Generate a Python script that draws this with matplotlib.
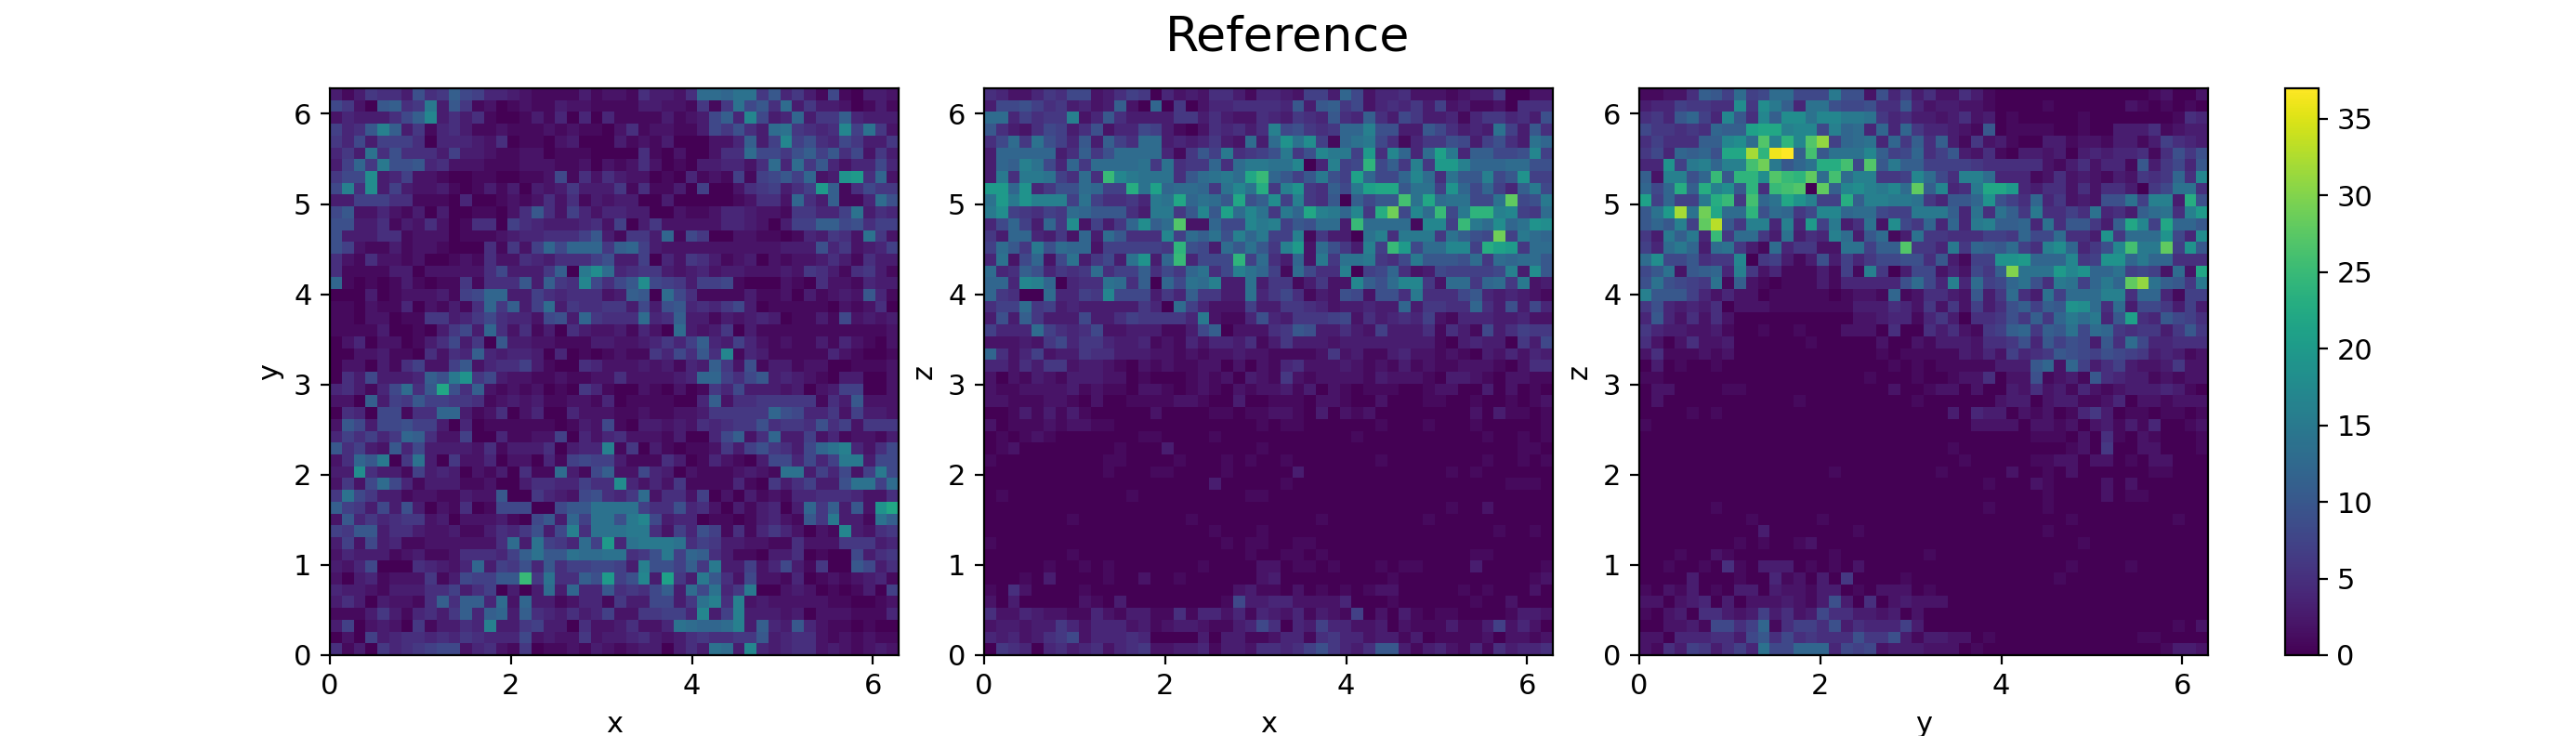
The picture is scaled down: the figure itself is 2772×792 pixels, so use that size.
import numpy as np
import matplotlib
matplotlib.use('Agg')  # Non-interactive backend
import matplotlib.pyplot as plt

# cell values, top row first, one character per cell
# 0-9 then a=10 ... z=35, A=36, B=37
DIGITS = '0123456789abcdefghijklmnopqrstuvwxyzAB'

rows_xy = [
    "31365539 56b87443 21111312 2153325d dcee6a46 31810332",
    "8620ab56 f3a61201 21132211 11332216 16e8a5d3 63320131",
    "2433358b h3535100 13140404 11113123 8b4h834c 366b4333",
    "745agb36 14531121 11212110 25122113 86953de6 545h7e62",
    "64837775 04443250 11023000 31213000 224b37h7 95486336",
    "463e5955 53733211 22011100 00510200 255d8869 b7a58263",
    "37c6f99a 45222111 22211202 12520103 34425d4d 6a424484",
    "688i3472 21001100 11281525 32201041 217178a7 c23jk5c2",
    "8g5i3732 23101313 03236333 61511307 00256735 7kb15866",
    "33777551 11040012 12525132 33003000 0012552c 53b114d9",
    "8a224213 03001102 5a527424 43300211 24432216 6447e354",
    "99335132 52015507 54333452 70362222 24432037 7bb89577",
    "93335512 22011123 445557a3 1663c186 00221101 43652e62",
    "97211312 21000516 27c8ccc6 bc732222 22222233 39462347",
    "52152212 00121522 54355579 33704265 31230212 23531533",
    "51111330 22222583 336b0fid 45663234 23322232 65315631",
    "c1010131 01161555 a3b65h85 8ai87637 78100021 05221433",
    "00030122 23178cc3 37545552 3ba0d851 11131120 31232a41",
    "11021140 21315c6b 37d36556 63839a45 46830111 11021250",
    "11022011 66346854 42893c65 55d45b33 13234301 13182323",
    "11113001 03683c52 51305322 31420d32 36031111 11111112",
    "02402201 358360a3 32211133 2234647b 43742121 13142102",
    "00223110 5254b434 43040101 2116485a 5h143111 11421001",
    "02203157 227a2455 73100542 22323143 b6291331 22001112",
    "05383334 b9fj6832 21121122 5222234c c758a343 21033002",
    "453148d5 am95b212 12010641 00210201 64833323 02377002",
    "220b376a 77665123 23112214 01111004 b2556666 6153a222",
    "05408815 5cc31250 24004222 11211223 66666c98 44627332",
    "2a838897 73040111 11101328 10332325 45669566 59572666",
    "475746cb 52270041 12270424 52221300 48b25c33 72412213",
    "a5732a48 33332513 3350344g 16031011 26379653 8ceg4258",
    "25caf06e 30622402 20417877 31115301 42103884 847ff388",
    "33i53317 34302130 511d318b 22843021 112321ee 374827f8",
    "2628d841 33311200 35544755 i4242611 11410635 7339ee7d",
    "6e863312 211322a0 06432895 46d25527 02031214 45554225",
    "b7638393 02150188 8008aaee ee755945 20313403 c6b3a2jm",
    "2a464566 23022231 08a3c7ee 9fh83440 11013421 a6f331eb",
    "76aa3553 22311354 6938g5ee eff52749 71514642 021h3256",
    "37283411 2222225d 3e764d7k 4efffe57 63322115 22266634",
    "24333123 11255547 beaaedde e569f7cb 53110335 01008356",
    "32480005 4324c376 94a57788 73g997b6 f3372483 1600a835",
    "20341222 613877aa p6e55b9k 79h3l63f a5282214 01212341",
    "43321333 55735703 03d3c44a 5658b3d8 e46f0023 20101307",
    "35303221 5b5bb4d2 c3312441 6338836e g5g23222 22110012",
    "11136314 536b4bc3 b5435347 2266774h 37g33323 02221114",
    "37023206 13354g33 67330522 35224edc cdg3b43a 42110100",
    "02073455 45465444 82322623 34532356 5566a345 52121211",
    "51306456 78824521 60112132 12330353 ed3h4345 52321232",
]

rows_xz = [
    "54224658 82357604 23255314 432773c8 24452221 23360022",
    "38897563 423b20c0 60244555 54a3ab68 24546372 31120555",
    "dd47566g 24a53333 66353225 43654a54 b5386334 14664539",
    "a5325873 59244873 10254535 g89656cc g9933a85 343e73a5",
    "58d6e974 a3b75dd3 434632d3 djei71ce f8514669 837953ec",
    "3ccccc35 b69dddd4 16a7f567 9f69hff7 k5hc4dlf 4bb889h7",
    "3cbge84c 6dddde6e 566c5dff eeh04g78 o8b6g6kk gcccdd99",
    "3f5ffe75 d5phfeee 5adefdmp ca7af97l c88chd5e aag8aj77",
    "kkcj4699 dc77nelc ddc6ehen 6gj65b8f lmmaee7j c8c74bf8",
    "ekfjggg7 e75564fe mcedam9b i7g65a0b 8aaqemde e88es89f",
    "fi76576d caaa53ff 6ahaldhe 6fcmgfch 6nt8hdp8 foogh76d",
    "48c73c6i 2736cibd r22c88hf g7a9dd3p dddd1hh7 pfdiceji",
    "63cc4362 c3da555h 7dbe9gcf 77g16330 eg5fff6e b98t7fdc",
    "7da6f9dc c2777776 o983daea 6gk2d963 g7pk8ddh h7nlk6dd",
    "4e28c28e 3683ej3c p4888o7d 53c2f6ee f658faaa 9d6dcdda",
    "d45b9465 6d577b58 6ce58gec 71d855g0 78c52387 7778g3ia",
    "cc4hgc04 55ed5b0c 8edg33e3 6613622h b9dhh62d d6cd6f23",
    "c6500d44 76h88836 4b6633e4 68513298 2995f555 8a434321",
    "577d6734 33333640 d7422273 36654233 433c3665 5c539384",
    "393b6333 83357666 64f21149 43666782 53454721 44433422",
    "7444d754 58223331 138b0222 56a93353 27333515 31835766",
    "22232684 66433412 14244351 36333233 33333310 34330638",
    "c5247233 65533322 12122322 11112623 11342212 10324243",
    "44253662 33210212 11220202 14522232 12131211 22210255",
    "20213213 33220100 01212032 16212222 13222103 32102211",
    "21122223 12110221 01210212 23130210 11100122 00302010",
    "22111221 02001111 22100300 11102210 02000110 01001012",
    "00131313 10000020 00011011 22103021 20000000 02031101",
    "20111212 21100000 00000001 01100000 01000100 01000001",
    "01012100 00000110 00010000 00000001 00000000 00100101",
    "01200000 00010003 00000001 00000000 00000000 00000110",
    "10000000 00110000 10001010 01000000 01000000 00100101",
    "00000000 00100011 00001000 00300000 00000001 01000000",
    "00000000 00000000 00030000 01000000 00000000 00001110",
    "01000000 00001000 00000011 00000000 00000000 00000000",
    "00000000 00000000 00000000 00000000 00000001 00200000",
    "00000001 00000000 01000000 00001000 00000100 00000000",
    "00000000 00000000 00010001 00000000 00000000 00010010",
    "10000000 00000000 00001011 00110000 00000000 00000000",
    "00000001 00000000 00000010 01101000 00000000 01100000",
    "00000100 10100000 00100002 20110100 01011000 03000001",
    "00010300 00100200 10000002 30000000 00100000 00000012",
    "10520000 10000000 00000231 10201010 12200000 10100020",
    "20300000 21030000 00001833 44222240 00100000 01002000",
    "52243221 14213311 51442414 32413217 02031011 00001332",
    "23323364 24442312 33211348 50437442 23021113 11372420",
    "43423568 24445400 00303311 24415644 23313011 11202212",
    "06540453 45245622 33413325 54579643 5aa31342 14153445",
]

rows_yz = [
    "11225ba7 d78dd888 f9929473 52253100 00000000 00012002",
    "34476655 i6ifb4ee 988955a4 23322100 00100000 02101010",
    "564ac74h a5hbiieh hffe6453 32352301 00000100 00000154",
    "866565cb blmmghh8 gcd4c4c6 44321a01 11100100 33351233",
    "57555bbh idrgohrv 7cde4c6b 5b316231 00331221 33137543",
    "684cbc9m mwoABbqa eeehb78c 57a32510 33230343 44515969",
    "44j7fgcg gqtfacen nq8rafbb 77776555 55213524 41a3684a",
    "b2gg9cpa ooirposd qdgg667h d85ggd44 41252321 32656c5h",
    "c8cnbngi ao5pqr0s bhigfhds bh45fmmk 43552525 53068ee5",
    "l7c77fnp 6qcemjg7 7nbggffe 64aacj97 5c462329 9e7gg3n9",
    "aekwetmd do9dc68h hcdd877f ffb4e5eb 6f5575e4 53bde5gk",
    "acag7sxa 6gg4g4k7 f35e2i86 c4c4fgbb c4e5aa63 bmh7mcca",
    "63fbf4p6 dd63e354 gd3ad13e 66555776 c88d553j 6dddj84i",
    "74dfc3de 631d4662 2ee7bbr6 64f6cbad 75gic469 hqffs7ja",
    "di88a566 h0673139 37468899 5a3177jj kccch67j jcfcc555",
    "8ae2abc4 g6241113 171g6038 824286bu eeekhjcc e7872d2m",
    "9e9876e1 b2101113 1444449d 84g4d78c e95fe7cf csveba6f",
    "gaaa7424 22011111 01221c12 5532a36d 53e7dddg g5cc4177",
    "69434350 22211111 11333542 62627359 b7bajid5 d3886373",
    "4a425252 00000000 00223441 46305569 6b6cfdf4 al54a875",
    "64332231 00100100 02220500 5352167b c6bae8dc 656636a6",
    "52025223 00000010 00002002 13332556 94a7983a 5d844555",
    "25111212 00000000 00001011 11132427 456a9879 87634312",
    "03010010 00000000 00000101 01111133 3ac2c735 73223622",
    "11000000 00000000 00010001 00122502 291231a5 43312122",
    "02200001 10000000 00000200 12202003 25231421 23334310",
    "02000000 00000100 00000001 00000023 30233112 40221222",
    "00001010 00000000 00000000 00304330 21201463 01101101",
    "10000000 00000000 00000000 00002222 02212023 13140012",
    "00000000 00000000 00000000 00000000 01110205 10210001",
    "00000000 00000000 00000000 00100000 00001206 00220001",
    "00000000 00000000 00000000 00010000 01122022 01022000",
    "00000000 00000000 10000000 01000002 00102000 00011000",
    "00000000 00000000 00000000 00000100 02100002 02000000",
    "00000000 00000000 00000000 00000000 00100002 01100000",
    "00000010 00000000 00000000 00000100 00100000 00000000",
    "00000000 01000001 00000000 00000000 00001000 00000100",
    "00000000 00300000 00100000 00000000 00100000 00000000",
    "00000000 10100120 00000000 00000000 00000100 00000000",
    "00010021 00000000 10000000 10000000 00000000 00000000",
    "00100105 10333010 10200000 00000000 00001000 01000000",
    "00003000 10041203 06000010 00000000 00010000 00000000",
    "10213010 33032213 30102220 10000000 00000000 00000000",
    "22023403 02223213 93050232 22000000 00000000 00000000",
    "10230553 23735238 55332302 00000000 00000000 00000000",
    "00223188 57c15775 93544473 00000000 00000000 00000102",
    "22044455 38a58565 55966931 33220100 00000000 00110000",
    "21537635 74e88ccc 48782333 22201000 00000000 00001332",
]

panel_rows = [rows_xy, rows_xz, rows_yz]
x_labels = ['x', 'x', 'y']
y_labels = ['y', 'z', 'z']
ticks = [0, 1, 2, 3, 4, 5, 6]
ticks_x = [0, 2, 4, 6]
cbar_ticks = [0, 5, 10, 15, 20, 25, 30, 35]
title = 'Reference'
vmax = 37

plt.rcParams['font.size'] = 11


def decode(rows):
    # top row first in the picture, pcolormesh wants bottom row first
    grid = [[DIGITS.index(c) for c in r.replace(' ', '')] for r in rows]
    return np.array(grid[::-1], dtype=float)


W, H = 2772, 792
fig = plt.figure(figsize=(W / 200, H / 200), dpi=200)
lefts = [355, 1059, 1764]
top, bottom = 95, 705
width = 612
edges = np.linspace(0, 2 * np.pi, 49)

mesh = None
for left, rows, xl, yl in zip(lefts, panel_rows, x_labels, y_labels):
    ax = fig.add_axes([left / W, 1 - bottom / H, width / W, (bottom - top) / H])
    mesh = ax.pcolormesh(edges, edges, decode(rows), cmap='viridis', vmin=0, vmax=vmax)
    ax.set_xticks(ticks_x)
    ax.set_yticks(ticks)
    ax.set_xlabel(xl)
    ax.set_ylabel(yl)

cax = fig.add_axes([2459 / W, 1 - bottom / H, 36 / W, (bottom - top) / H])
fig.colorbar(mesh, cax=cax, ticks=cbar_ticks)

fig.suptitle(title, fontsize=18.8, x=0.5, y=0.98)
fig.savefig('out.png', dpi=200)
